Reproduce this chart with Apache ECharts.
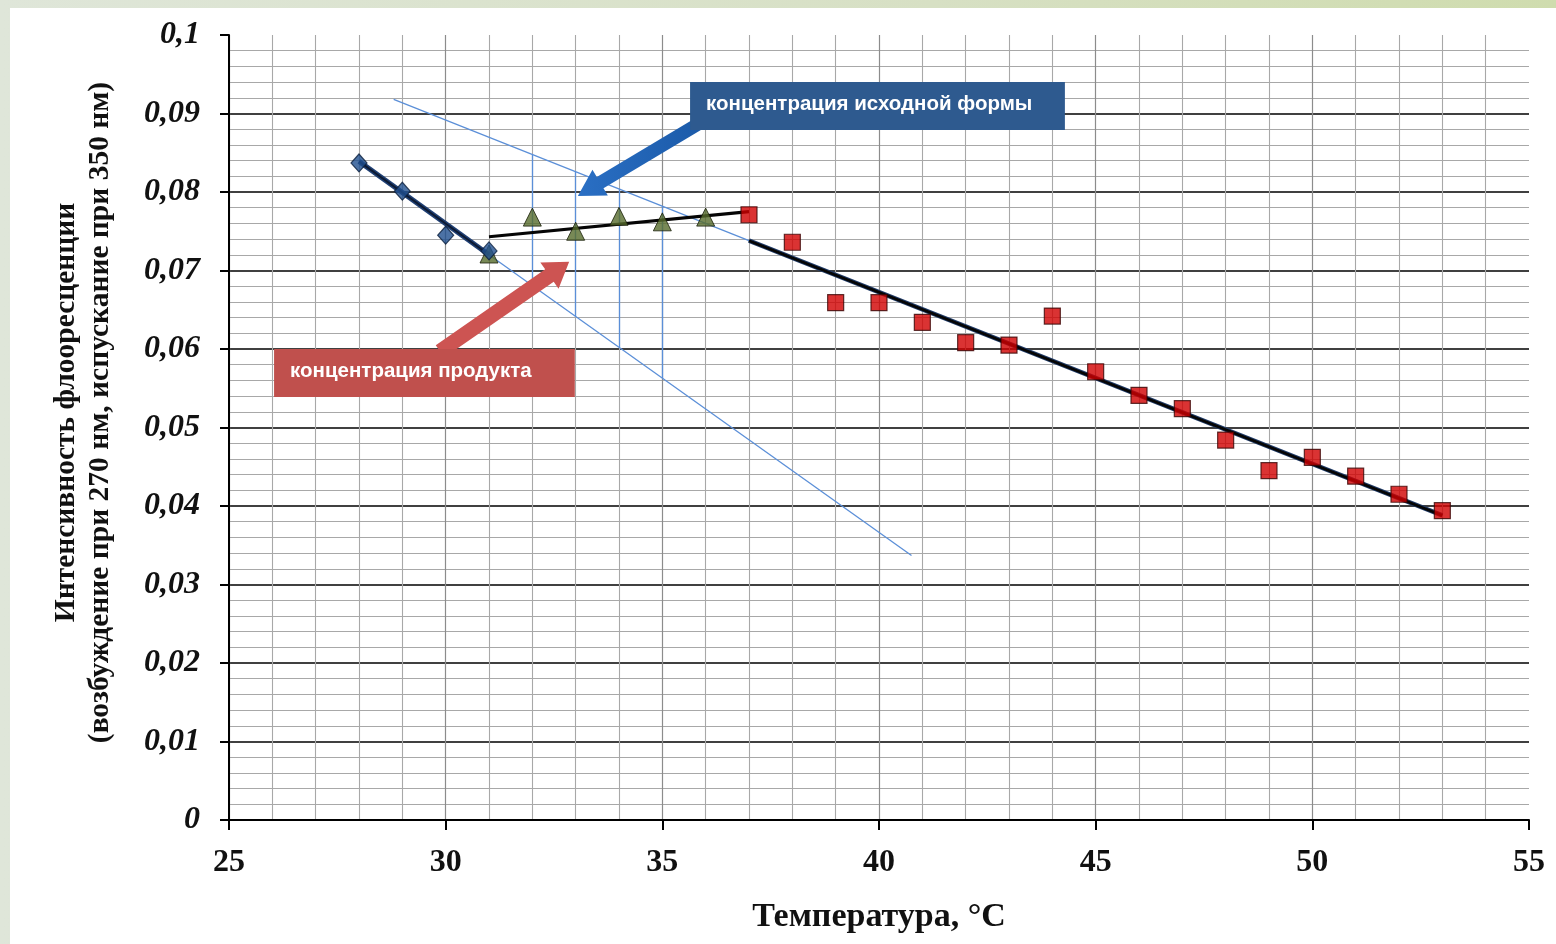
<!DOCTYPE html>
<html>
<head>
<meta charset="utf-8">
<script src="https://cdn.jsdelivr.net/npm/echarts@6/dist/echarts.min.js"></script>
<style>
html,body{margin:0;padding:0;width:1556px;height:944px;overflow:hidden;}
body{background:linear-gradient(90deg,#dfe6d9 0%,#d7e0c4 60%,#cfdcae 100%);}
#chart{position:absolute;left:10px;top:8px;width:1546px;height:936px;background:#fff;}
</style>
</head>
<body>
<div id="chart"></div>
<script>
// ---- data ----
var diamondX = [28, 29, 30, 31];
var diamondY = [0.0837, 0.0801, 0.0745, 0.0725];
var triangleX = [31, 32, 33, 34, 35, 36];
var triangleY = [0.0721, 0.0768, 0.0750, 0.0769, 0.0762, 0.0768];
var squareX = [37, 38, 39, 40, 41, 42, 43, 44, 45, 46, 47, 48, 49, 50, 51, 52, 53];
var squareY = [0.0771, 0.0736, 0.0659, 0.0659, 0.0634, 0.0608, 0.0605, 0.0642, 0.0571, 0.0541, 0.0524, 0.0484, 0.0445, 0.0462, 0.0438, 0.0415, 0.0394];
var trendDiamond = [[28, 0.0839], [31, 0.0720]];
var trendTriangle = [[31, 0.0743], [37, 0.0775]];
var trendSquare = [[37, 0.0738], [53, 0.0388]];
var upperGuide = [[28.8, 0.0918], [37, 0.0738]];
var lowerGuide = [[31, 0.0720], [40.75, 0.0337]];
var vlineX = [32, 33, 34, 35];
var vlineTop = [0.0848, 0.0826, 0.0804, 0.0782];
var vlineBottom = [0.0681, 0.0641, 0.0602, 0.0563];
var yTickLabels = ['0', '0,01', '0,02', '0,03', '0,04', '0,05', '0,06', '0,07', '0,08', '0,09', '0,1'];
var xTickLabels = ['25', '30', '35', '40', '45', '50', '55'];
var xName = 'Температура, °С';
var yName = 'Интенсивность фло\u043eресценции\n(возбуждение при 270 нм, испускание при 350 нм)';
var noteBlue = 'концентрация исходной формы';
var noteRed = 'концентрация продукта';
// annotation anchors in data coordinates
var blueBox = [[35.64, 0.0940], [44.29, 0.0879]];
var blueArrow = [[35.9, 0.0889], [33.05, 0.0795]];
var redBox = [[26.04, 0.0600], [32.98, 0.0539]];
var redArrow = [[29.87, 0.0597], [32.85, 0.0711]];

function zip(xs, ys) { return xs.map(function (x, i) { return [x, ys[i]]; }); }

var chart = echarts.init(document.getElementById('chart'));
var serif = '"Liberation Serif", "Times New Roman", serif';
var option = {
  animation: false,
  grid: { left: 219, right: 27, top: 27, bottom: 124 },
  xAxis: {
    type: 'value', min: 25, max: 55, interval: 5,
    name: xName, nameLocation: 'middle', nameGap: 80,
    nameTextStyle: { fontFamily: serif, fontWeight: 'bold', fontSize: 34, color: '#111' },
    axisLine: { lineStyle: { color: '#000', width: 2 } },
    axisTick: { show: true, length: 10, lineStyle: { color: '#000', width: 2 } },
    axisLabel: { margin: 27, fontFamily: serif, fontWeight: 'bold', fontSize: 32, color: '#111',
      formatter: function (v) { return xTickLabels[Math.round((v - 25) / 5)]; } },
    splitLine: { show: true, showMaxLine: false, lineStyle: { color: '#8c8c8c', width: 1.2 } },
    minorTick: { show: false, splitNumber: 5 },
    minorSplitLine: { show: true, lineStyle: { color: '#a8a8a8', width: 1.1 } }
  },
  yAxis: {
    type: 'value', min: 0, max: 0.1, interval: 0.01,
    name: yName, nameLocation: 'middle', nameGap: 112, nameRotate: 90,
    nameTextStyle: { fontFamily: serif, fontWeight: 'bold', fontSize: 29.5, color: '#111', lineHeight: 34, align: 'center', padding: [0, 0, 0, 30] },
    axisLine: { show: true, lineStyle: { color: '#000', width: 2 } },
    axisTick: { show: true, length: 9, lineStyle: { color: '#000', width: 2 } },
    axisLabel: { margin: 29, fontFamily: serif, fontWeight: 'bold', fontStyle: 'italic', fontSize: 32, color: '#111',
      formatter: function (v) { return yTickLabels[Math.round(v / 0.01)]; } },
    splitLine: { show: true, showMaxLine: false, lineStyle: { color: '#000', width: 1.6 } },
    minorTick: { show: false, splitNumber: 5 },
    minorSplitLine: { show: true, lineStyle: { color: '#a8a8a8', width: 1.1 } }
  },
  series: [
    { type: 'lines', coordinateSystem: 'cartesian2d', silent: true, z: 3,
      lineStyle: { color: '#5b8fd8', width: 1.3, opacity: 1 },
      data: [{ coords: upperGuide }, { coords: lowerGuide }].concat(
        vlineX.map(function (x, i) { return { coords: [[x, vlineTop[i]], [x, vlineBottom[i]]] }; })) },
    { type: 'line', data: trendDiamond, symbol: 'none', z: 4, lineStyle: { color: '#1f3f73', width: 5 } },
    { type: 'line', data: trendDiamond, symbol: 'none', z: 4, lineStyle: { color: '#0c1a33', width: 2 } },
    { type: 'line', data: trendTriangle, symbol: 'none', z: 4, lineStyle: { color: '#050505', width: 3.2 } },
    { type: 'line', data: trendSquare, symbol: 'none', z: 4, lineStyle: { color: '#1f3a66', width: 4.6 } },
    { type: 'line', data: trendSquare, symbol: 'none', z: 4, lineStyle: { color: '#050505', width: 2.6 } },
    { type: 'scatter', data: zip(triangleX, triangleY), symbol: 'triangle', symbolSize: [18, 18], z: 5,
      itemStyle: { color: '#566b2c', borderColor: '#1a1f0a', borderWidth: 1 } },
    { type: 'scatter', data: zip(diamondX, diamondY), symbol: 'diamond', symbolSize: [16, 18], z: 6,
      itemStyle: { color: '#1f4f8f', borderColor: '#0b1f3d', borderWidth: 1.2 } },
    { type: 'scatter', data: zip(squareX, squareY), symbol: 'rect', symbolSize: 16, z: 5,
      itemStyle: { color: '#d10000', borderColor: '#3a0505', borderWidth: 1.2 } }
  ]
};
chart.setOption(option);

function px(p) { return chart.convertToPixel({ gridIndex: 0 }, p); }
function arrowPoly(t, p, shaftW, headW, headL) {
  var dx = p[0] - t[0], dy = p[1] - t[1], L = Math.sqrt(dx * dx + dy * dy);
  var ux = dx / L, uy = dy / L, nx = -uy, ny = ux;
  var bx = p[0] - ux * headL, by = p[1] - uy * headL;
  return [
    [t[0] + nx * shaftW / 2, t[1] + ny * shaftW / 2],
    [bx + nx * shaftW / 2, by + ny * shaftW / 2],
    [bx + nx * headW / 2, by + ny * headW / 2],
    [p[0], p[1]],
    [bx - nx * headW / 2, by - ny * headW / 2],
    [bx - nx * shaftW / 2, by - ny * shaftW / 2],
    [t[0] - nx * shaftW / 2, t[1] - ny * shaftW / 2]
  ];
}
function box(b) { var a = px(b[0]), c = px(b[1]); return { x: a[0], y: a[1], width: c[0] - a[0], height: c[1] - a[1] }; }
var bb = box(blueBox), rb = box(redBox);
var ba = [px(blueArrow[0]), px(blueArrow[1])], ra = [px(redArrow[0]), px(redArrow[1])];
var sans = '"Liberation Sans", Arial, sans-serif';
chart.setOption({
  graphic: [
    { type: 'polygon', z: 100, shape: { points: arrowPoly(ba[0], ba[1], 13, 30, 26) },
      style: { fill: new echarts.graphic.LinearGradient(0, 0, 1, 0, [{ offset: 0, color: '#2a6fc4' }, { offset: 1, color: '#1b5aa8' }]) } },
    { type: 'rect', z: 101, shape: bb, style: { fill: '#2e5a8f' } },
    { type: 'text', z: 102, left: bb.x + 16, top: bb.y + bb.height / 2 - 12,
      style: { text: noteBlue, fill: '#fff', font: 'bold 20.5px ' + sans } },
    { type: 'polygon', z: 100, shape: { points: arrowPoly(ra[0], ra[1], 15, 32, 24) },
      style: { fill: '#cd5452' } },
    { type: 'rect', z: 101, shape: rb, style: { fill: '#c0504d' } },
    { type: 'text', z: 102, left: rb.x + 16, top: rb.y + rb.height / 2 - 12,
      style: { text: noteRed, fill: '#fff', font: 'bold 20.5px ' + sans } }
  ]
});
</script>
</body>
</html>
